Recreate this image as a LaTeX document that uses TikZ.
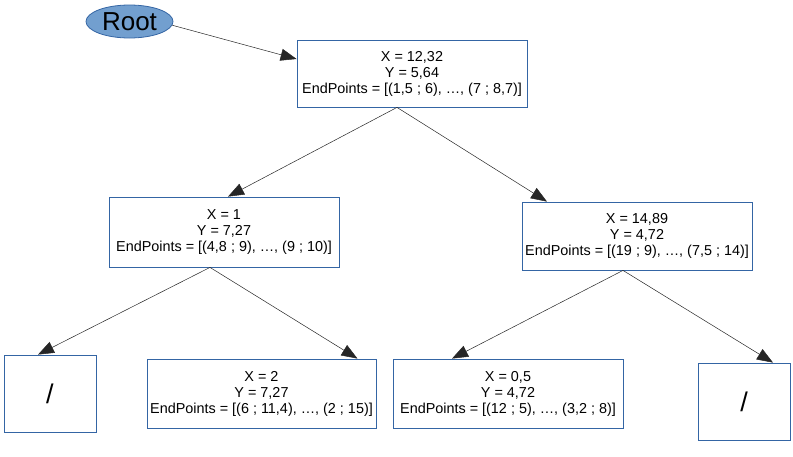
\documentclass[tikz,border=0pt]{standalone}
\usepackage{fontspec}
\setmainfont{Liberation Sans}
\usetikzlibrary{shapes.geometric, arrows.meta, positioning}

\definecolor{bordeazul}{HTML}{3465A4}
\definecolor{rellenoazul}{HTML}{729FCF}

\begin{document}
\begin{tikzpicture}[
    x=1pt, y=-1pt,
    nodo/.style={
        rectangle,
        draw=bordeazul,
        line width=0.8pt,
        minimum width=230pt,
        minimum height=68pt,
        align=center,
        inner sep=2pt,
        font=\fontsize{14.4}{16}\selectfont,
        fill=white
    },
    vacio/.style={
        nodo,
        minimum width=92pt,
        minimum height=77pt,
        font=\fontsize{27}{30}\selectfont
    },
    raiz/.style={
        ellipse,
        draw=bordeazul,
        line width=0.8pt,
        fill=rellenoazul,
        minimum width=87pt,
        minimum height=33pt,
        inner sep=0pt,
        font=\fontsize{26}{30}\selectfont
    },
    arrow/.style={-{Triangle[length=16pt,width=12pt]}, line width=0.5pt, draw=black!85}
]

\useasboundingbox (0,0) rectangle (793,456);

\node[raiz] (root) at (129.5,21.5) {Root};
\node[nodo, minimum height=67pt] (n0) at (412,73.5) {X = 12,32 \\ Y = 5,64 \\ EndPoints = [(1,5 ; 6), \dots, (7 ; 8,7)]};
\node[nodo, minimum height=70pt] (n1) at (224,232) {X = 1 \\ Y = 7,27 \\ EndPoints = [(4,8 ; 9), \dots, (9 ; 10)]};
\node[nodo] (n2) at (637,236) {X = 14,89 \\ Y = 4,72 \\ EndPoints = [(19 ; 9), \dots, (7,5 ; 14)]};
\node[vacio] (n11) at (50,393.5) {/};
\node[nodo, minimum width=229pt, minimum height=69pt] (n12) at (261.5,393.5) {X = 2 \\ Y = 7,27 \\ EndPoints = [(6 ; 11,4), \dots, (2 ; 15)]};
\node[nodo, minimum height=69pt] (n21) at (508,393.5) {X = 0,5 \\ Y = 4,72 \\ EndPoints = [(12 ; 5), \dots, (3,2 ; 8)]};
\node[vacio] (n22) at (744,401.5) {/};

\draw[arrow] (root.-5) -- ([yshift=14.5pt]n0.west);
\draw[arrow] ([xshift=-15pt]n0.south) -- ([xshift=4pt]n1.north);
\draw[arrow] ([xshift=-15pt]n0.south) -- ([xshift=-90pt]n2.north);
\draw[arrow] ([xshift=-14pt]n1.south) -- ([xshift=-12pt]n11.north);
\draw[arrow] ([xshift=-14pt]n1.south) -- ([xshift=96pt]n12.north);
\draw[arrow] ([xshift=-14pt]n2.south) -- ([xshift=-56pt]n21.north);
\draw[arrow] ([xshift=-14pt]n2.south) -- ([xshift=29pt]n22.north);

\end{tikzpicture}
\end{document}
